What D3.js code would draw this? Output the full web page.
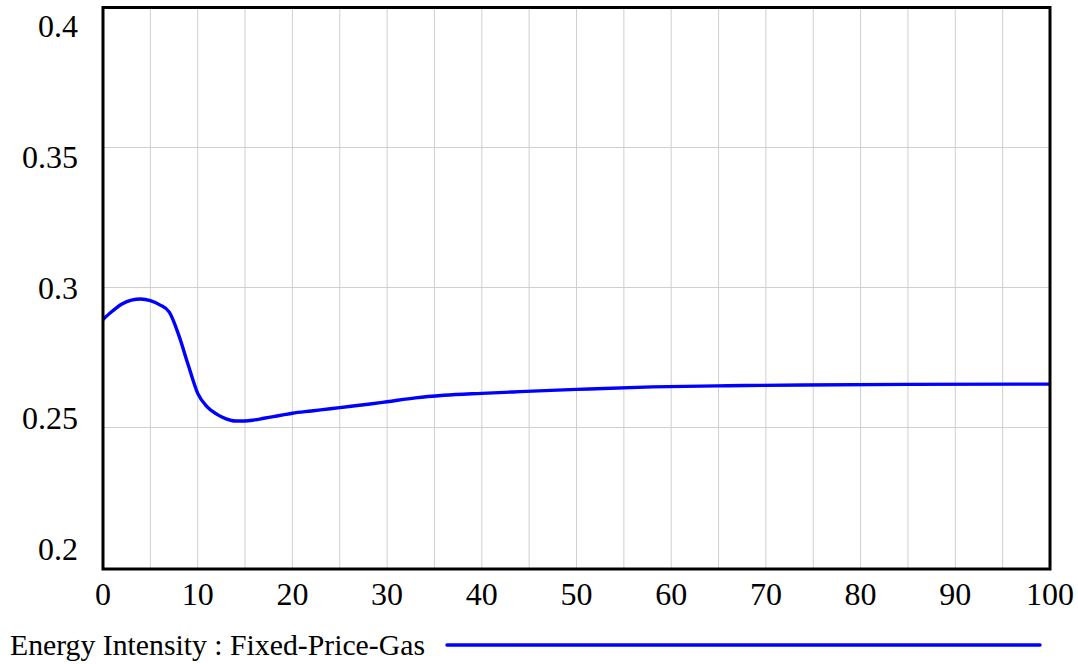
<!DOCTYPE html>
<html><head><meta charset="utf-8">
<script src="https://cdn.jsdelivr.net/npm/d3@7"></script>
<style>html,body{margin:0;padding:0;background:#fff;}svg{display:block;}</style>
</head><body>
<svg id="chart" width="1078" height="664"></svg>
<script>
const times  = [0,1,2,3,4,5,6,7,8,9,10,11,12,13,14,15,16,17,18,19,20,22,24,26,28,30,33,36,40,44,50,58,66,74,85,100];
const values = [0.2886,0.2916,0.2941,0.2955,0.2959,0.2953,0.2938,0.2912,0.2830,0.2723,0.2622,0.2574,0.2548,0.2531,0.2523,0.2523,0.2527,0.2533,0.2539,0.2545,0.2551,0.2559,0.2567,0.2575,0.2583,0.2592,0.2606,0.2615,0.2622,0.2628,0.2636,0.2645,0.2649,0.2652,0.2654,0.2655];
const xTicks = [0,10,20,30,40,50,60,70,80,90,100];
const xGrid = d3.range(5,100,5);
const yTicks = [0.2,0.25,0.3,0.35,0.4];
const yGrid = [0.25,0.3,0.35];
const seriesLabel = "Energy Intensity : Fixed-Price-Gas";

const svg = d3.select("#chart");
const L=103, R=1050, T=7.5, B=569;
const x = d3.scaleLinear().domain([0,100]).range([L,R]);
const y = d3.scaleLinear().domain([0.2,0.4]).range([567.5,T]);
const yLab = d3.scaleLinear().domain([0.4,0.2]).range([37,560]);
const font = "'Liberation Serif','Times New Roman',serif";

svg.append("rect").attr("width",1078).attr("height",664).attr("fill","#fff");

svg.append("g").selectAll("line").data(xGrid).join("line")
  .attr("x1",d=>x(d)).attr("x2",d=>x(d)).attr("y1",T).attr("y2",B)
  .attr("stroke","#cfcfcf").attr("stroke-width",1);
svg.append("g").selectAll("line").data(yGrid).join("line")
  .attr("x1",L).attr("x2",R).attr("y1",d=>y(d)).attr("y2",d=>y(d))
  .attr("stroke","#cfcfcf").attr("stroke-width",1);

const line = d3.line().x((d,i)=>x(times[i])).y(d=>y(d)).curve(d3.curveMonotoneX);
svg.append("path").datum(values).attr("d",line)
  .attr("fill","none").attr("stroke","#0000ff").attr("stroke-width",3.4).attr("stroke-linejoin","round");

svg.append("rect").attr("x",L).attr("y",T).attr("width",R-L).attr("height",B-T)
  .attr("fill","none").attr("stroke","#000").attr("stroke-width",3);

svg.append("g").selectAll("text").data(xTicks).join("text")
  .attr("x",d=>x(d)).attr("y",605).attr("text-anchor","middle")
  .attr("font-family",font).attr("font-size",32).attr("fill","#000").text(d=>d);
svg.append("g").selectAll("text").data(yTicks).join("text")
  .attr("x",78).attr("y",d=>yLab(d)).attr("text-anchor","end")
  .attr("font-family",font).attr("font-size",32).attr("fill","#000").text(d=>d);

svg.append("text").attr("x",10).attr("y",655).attr("font-family",font).attr("font-size",30)
  .attr("textLength",415).attr("lengthAdjust","spacingAndGlyphs").attr("fill","#000").text(seriesLabel);
svg.append("line").attr("x1",447).attr("x2",1040).attr("y1",645).attr("y2",645)
  .attr("stroke","#0000ff").attr("stroke-width",3.4).attr("stroke-linecap","round");
</script>
</body></html>
